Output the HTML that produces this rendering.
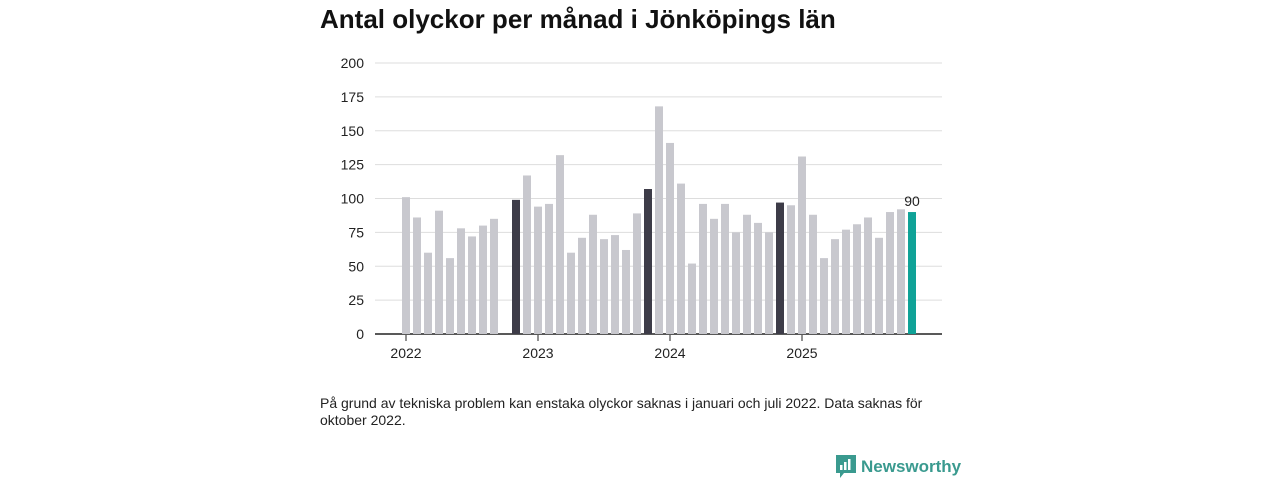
<!DOCTYPE html>
<html><head><meta charset="utf-8"><style>
body{margin:0;width:1280px;height:480px;background:#fff;font-family:"Liberation Sans",sans-serif;position:relative;overflow:hidden}
h1{position:absolute;left:320px;top:4px;margin:0;font-size:26px;font-weight:bold;color:#111}
#note{position:absolute;left:320px;top:395px;font-size:14px;line-height:17px;color:#222;width:640px}
#logo{position:absolute;left:836px;top:455px;display:flex;align-items:center;gap:5px;color:#3a9a8f;font-size:17px;font-weight:bold}
</style></head><body>
<h1>Antal olyckor per månad i Jönköpings län</h1>
<svg id="chart" width="1280" height="480" style="position:absolute;left:0;top:0"></svg>
<div id="note">På grund av tekniska problem kan enstaka olyckor saknas i januari och juli 2022. Data saknas för oktober 2022.</div>
<div id="logo"><svg width="20" height="24" viewBox="0 0 20 24"><path d="M0 0H20V18H8L4 23V18H0Z" fill="#3a9a8f"/><rect x="4" y="10" width="2.5" height="5" fill="#fff"/><rect x="8" y="7" width="2.5" height="8" fill="#fff"/><rect x="12" y="4" width="2.5" height="11" fill="#fff"/></svg><span>Newsworthy</span></div>
<script>
const values=[101,86,60,91,56,78,72,80,85,null,99,117, 94,96,132,60,71,88,70,73,62,89,107,168, 141,111,52,96,85,96,75,88,82,75,97,95, 131,88,56,70,77,81,86,71,90,92,90];
const yTicks=[0,25,50,75,100,125,150,175,200];
const yearLabels=["2022","2023","2024","2025"];
const svg=document.getElementById('chart');const NS='http://www.w3.org/2000/svg';
const y=v=>334-v*(271/200);const x=i=>406+i*11;
function mk(t,a){const e=document.createElementNS(NS,t);for(const k in a)e.setAttribute(k,a[k]);svg.appendChild(e);return e;}
yTicks.forEach(t=>{const l=mk('line',{x1:375,x2:942,y1:y(t),y2:y(t),stroke:t?'#ddd':'#222','stroke-width':t?1:1.5});


const tx=mk('text',{x:364,y:y(t)+5,'text-anchor':'end','font-size':14,fill:'#222'});tx.textContent=t;

});
const last=values.length-1;
values.forEach((v,i)=>{if(v==null)return;const m=i%12;
const fill=i===last?'#0fa297':(m===10?'#3d3c48':'#c8c8ce');
const r=mk('rect',{x:x(i)-4,y:y(v),width:8,height:334-y(v),fill});

});
const lb=mk('text',{x:x(last),y:y(values[last])-6,'text-anchor':'middle','font-size':14,fill:'#222'});lb.textContent=values[last];


yearLabels.forEach((s,k)=>{const cx=x(k*12);mk('line',{x1:cx,x2:cx,y1:335,y2:341,stroke:'#222'});
const t=mk('text',{x:cx,y:358,'text-anchor':'middle','font-size':14,fill:'#222'});t.textContent=s;

});
</script>
</body></html>
